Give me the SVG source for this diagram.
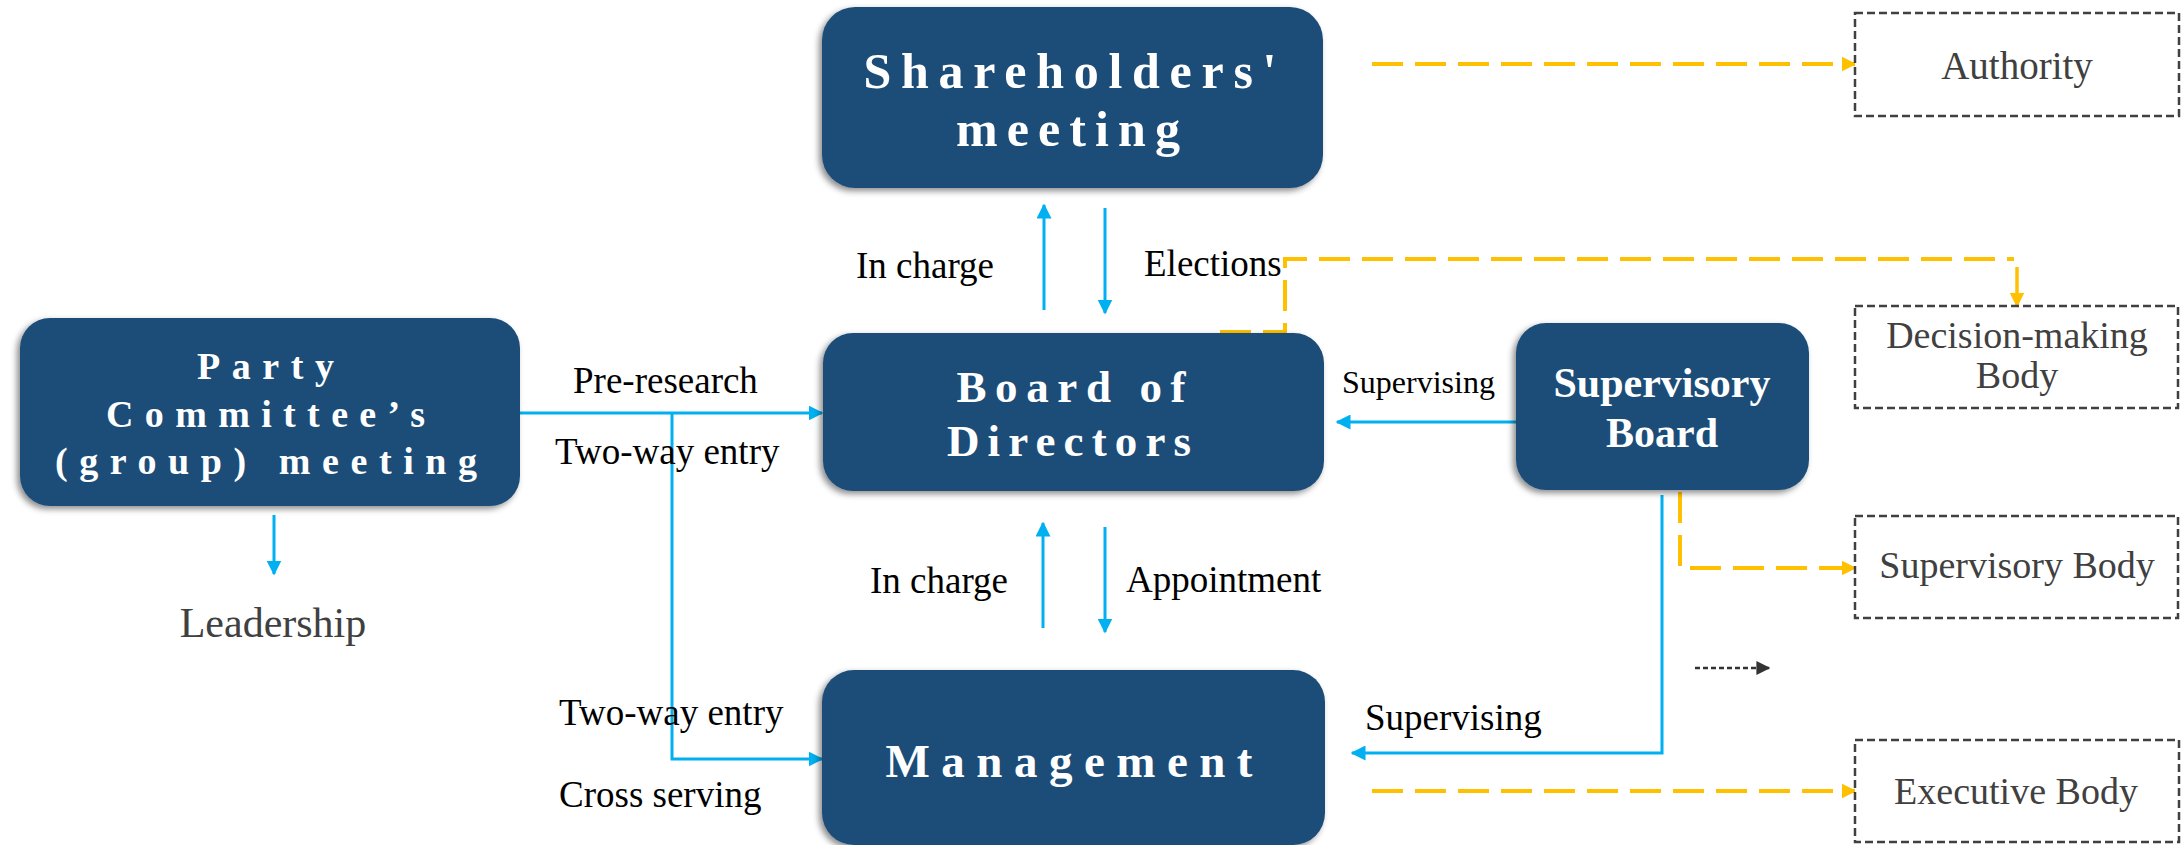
<svg xmlns="http://www.w3.org/2000/svg" width="2181" height="845" viewBox="0 0 2181 845">
<style>
.box{fill:#1F4E79;filter:url(#sh)}
.bt{font-family:"Liberation Serif","Times New Roman",serif;font-weight:bold;fill:#fff;text-anchor:middle}
.lbl{font-family:"Liberation Serif","Times New Roman",serif;font-size:37px;fill:#000}
.rt{font-family:"Liberation Serif","Times New Roman",serif;font-size:38px;fill:#404040;text-anchor:middle}
.blue{fill:none;stroke:#00B0F0;stroke-width:3;marker-end:url(#ab)}
.yel{fill:none;stroke:#FFC000;stroke-width:4;stroke-dasharray:31 12;marker-end:url(#ay)}
.dbox{fill:#fff;stroke:#404040;stroke-width:2.5;stroke-dasharray:8 4}
</style>
<defs>
<filter id="sh" x="-10%" y="-10%" width="120%" height="125%">
<feDropShadow dx="-3" dy="3" stdDeviation="3" flood-color="#000" flood-opacity="0.45"/>
</filter>
<marker id="ab" viewBox="0 0 10 10" refX="9" refY="5" markerWidth="15" markerHeight="15" markerUnits="userSpaceOnUse" orient="auto">
<path d="M0,0 L10,5 L0,10 z" fill="#00B0F0"/>
</marker>
<marker id="ay" viewBox="0 0 10 10" refX="9" refY="5" markerWidth="15" markerHeight="15" markerUnits="userSpaceOnUse" orient="auto">
<path d="M0,0 L10,5 L0,10 z" fill="#FFC000"/>
</marker>
<marker id="ak" viewBox="0 0 10 10" refX="9" refY="5" markerWidth="14" markerHeight="14" markerUnits="userSpaceOnUse" orient="auto">
<path d="M0,0 L10,5 L0,10 z" fill="#333"/>
</marker>
</defs>

<g id="connectors">
<path class="blue" d="M520,413 H822"/>
<path class="blue" d="M672,413 V759 H822"/>
<path class="blue" d="M274,515 V574"/>
<path class="blue" d="M1044,310 V205"/>
<path class="blue" d="M1105,208 V313"/>
<path class="blue" d="M1043,628 V523"/>
<path class="blue" d="M1105,527 V632"/>
<path class="blue" d="M1516,422 H1337"/>
<path class="blue" d="M1662,495 V753 H1352"/>
<path class="yel" d="M1372,64 H1855"/>
<path class="yel" d="M1220,332 H1285 V259 H2014" marker-end="none" style="marker-end:none"/>
<path d="M2017,267 V306" fill="none" stroke="#FFC000" stroke-width="3.5" marker-end="url(#ay)"/>
<path class="yel" d="M1680,492 V568 H1855"/>
<path class="yel" d="M1372,791 H1855"/>
<path d="M1695,668 H1769" fill="none" stroke="#333" stroke-width="2.5" stroke-dasharray="5 3" marker-end="url(#ak)"/>
</g>

<g id="shareholders">
<rect class="box" x="822" y="7" width="501" height="181" rx="33"/>
<text class="bt" font-size="50" x="1070" y="88" textLength="413" lengthAdjust="spacing">Shareholders'</text>
<text class="bt" font-size="50" x="1068" y="146" textLength="224" lengthAdjust="spacing">meeting</text>
</g>

<g id="board">
<rect class="box" x="823" y="333" width="501" height="158" rx="30"/>
<text class="bt" font-size="45" x="1071" y="402" textLength="229" lengthAdjust="spacing">Board of</text>
<text class="bt" font-size="45" x="1069" y="456" textLength="244" lengthAdjust="spacing">Directors</text>
</g>

<g id="management">
<rect class="box" x="822" y="670" width="503" height="175" rx="32"/>
<text class="bt" font-size="47" x="1069" y="777" textLength="367" lengthAdjust="spacing">Management</text>
</g>

<g id="party">
<rect class="box" x="20" y="318" width="500" height="188" rx="30"/>
<text class="bt" font-size="38" x="265.5" y="379" textLength="137" lengthAdjust="spacing">Party</text>
<text class="bt" font-size="38" x="265.5" y="427" textLength="319" lengthAdjust="spacing">Committee’s</text>
<text class="bt" font-size="38" x="266" y="474" textLength="422" lengthAdjust="spacing">(group) meeting</text>
</g>

<g id="supervisory-board">
<rect class="box" x="1516" y="323" width="293" height="167" rx="30"/>
<text class="bt" font-size="42" x="1662" y="397">Supervisory</text>
<text class="bt" font-size="42" x="1662" y="447">Board</text>
</g>

<g id="leadership">
<text class="rt" x="273" y="637" style="font-size:42px">Leadership</text>
</g>

<g id="authority">
<rect class="dbox" x="1855" y="13" width="324" height="103"/>
<text class="rt" x="2017" y="79" style="font-size:39px">Authority</text>
</g>

<g id="decision-making-body">
<rect class="dbox" x="1855" y="306" width="323" height="102"/>
<text class="rt" x="2017" y="348">Decision-making</text>
<text class="rt" x="2017" y="388">Body</text>
</g>

<g id="supervisory-body">
<rect class="dbox" x="1855" y="516" width="323" height="102"/>
<text class="rt" x="2017" y="578">Supervisory Body</text>
</g>

<g id="executive-body">
<rect class="dbox" x="1855" y="740" width="324" height="102"/>
<text class="rt" x="2016" y="804">Executive Body</text>
</g>

<g id="labels">
<text class="lbl" x="856" y="278">In charge</text>
<text class="lbl" x="1144" y="276">Elections</text>
<text class="lbl" x="1342" y="393" style="font-size:32px">Supervising</text>
<text class="lbl" x="573" y="393">Pre-research</text>
<text class="lbl" x="555" y="464">Two-way entry</text>
<text class="lbl" x="559" y="725">Two-way entry</text>
<text class="lbl" x="559" y="807">Cross serving</text>
<text class="lbl" x="870" y="593">In charge</text>
<text class="lbl" x="1126" y="592">Appointment</text>
<text class="lbl" x="1365" y="730">Supervising</text>
</g>
</svg>
